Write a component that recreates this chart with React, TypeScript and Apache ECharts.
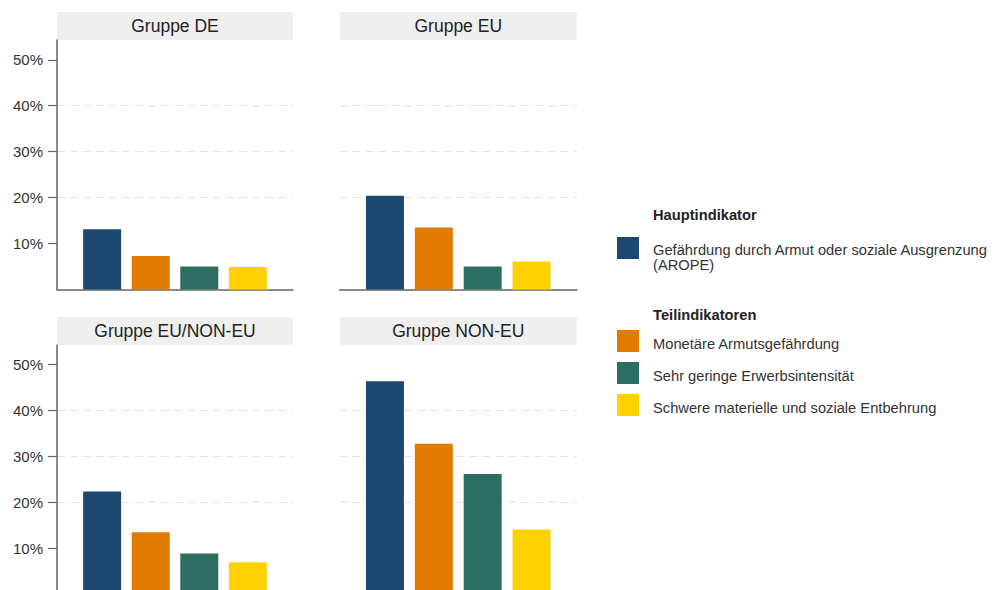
import React, { useEffect, useRef } from "react";
import * as echarts from "echarts";

const indicators = [
  "Gefährdung durch Armut oder soziale Ausgrenzung (AROPE)",
  "Monetäre Armutsgefährdung",
  "Sehr geringe Erwerbsintensität",
  "Schwere materielle und soziale Entbehrung",
];
const colors = ["#1d4870", "#e27c00", "#2e6e62", "#ffd100"];
const groups = ["Gruppe DE", "Gruppe EU", "Gruppe EU/NON-EU", "Gruppe NON-EU"];
const valuesDE = [13.1, 7.3, 5.0, 4.9];
const valuesEU = [20.4, 13.5, 5.0, 6.1];
const valuesEUNONEU = [22.4, 13.5, 8.9, 7.0];
const valuesNONEU = [46.4, 32.8, 26.2, 14.1];
const groupValues = [valuesDE, valuesEU, valuesEUNONEU, valuesNONEU];
const yTicks = [10, 20, 30, 40, 50];
const headerMain = "Hauptindikator";
const headerSub = "Teilindikatoren";

const FONT = "'Liberation Sans', Arial, sans-serif";
const LEG_FS = 14.7;

export default function App() {
  const ref = useRef<HTMLDivElement>(null);
  useEffect(() => {
    if (!ref.current) return;
    const chart = echarts.init(ref.current, undefined, { renderer: "svg" });
    const panels = [
      { left: 57, top: 40, width: 236, height: 249.5, yLabels: true },
      { left: 339.5, top: 40, width: 237.5, height: 249.5, yLabels: false },
      { left: 57, top: 345, width: 236, height: 249.3, yLabels: true },
      { left: 339.5, top: 345, width: 237.5, height: 249.3, yLabels: false },
    ];
    const grids = panels.map((p) => ({
      left: p.left,
      top: p.top,
      width: p.width,
      height: p.height,
      containLabel: false,
    }));
    const xAxes = panels.map((_, i) => ({
      type: "value",
      gridIndex: i,
      min: 0.07,
      max: 4.93,
      axisLine: { show: true, onZero: false, lineStyle: { color: "#666", width: 1.5 } },
      axisTick: { show: false },
      axisLabel: { show: false },
      splitLine: { show: false },
    }));
    const yAxes = panels.map((p, i) => ({
      type: "value",
      gridIndex: i,
      min: 0,
      max: 54.3,
      interval: 10,
      axisLine: { show: p.yLabels, lineStyle: { color: "#666", width: 1.5 } },
      axisTick: {
        show: p.yLabels,
        length: 9,
        customValues: yTicks,
        lineStyle: { color: "#666", width: 1.2 },
      },
      axisLabel: {
        show: p.yLabels,
        customValues: yTicks,
        formatter: (v: number) => `${v}%`,
        fontSize: 15,
        color: "#333",
        fontFamily: FONT,
        margin: 14,
      },
      splitLine: {
        show: true,
        showMinLine: false,
        showMaxLine: false,
        lineStyle: { color: "#e3e3e3", type: [8, 5], width: 1 },
      },
    }));
    const series: any[] = [];
    groupValues.forEach((vals, gi) => {
      indicators.forEach((name, ii) => {
        series.push({
          type: "bar",
          name,
          xAxisIndex: gi,
          yAxisIndex: gi,
          barWidth: 38,
          barGap: "-100%",
          itemStyle: { color: colors[ii] },
          data: [[ii + 1, vals[ii]]],
        });
      });
    });
    const graphic: any[] = [];
    panels.forEach((p, i) => {
      graphic.push({
        type: "rect",
        shape: { x: p.left, y: p.top - 28, width: p.width, height: 28 },
        style: { fill: "#efefef" },
        silent: true,
      });
      graphic.push({
        type: "text",
        x: p.left + p.width / 2,
        y: p.top - 14,
        style: {
          text: groups[i],
          fontSize: 17.5,
          fontFamily: FONT,
          fill: "#222",
          align: "center",
          verticalAlign: "middle",
        },
        silent: true,
      });
    });
    graphic.push({
      type: "text",
      x: 653,
      y: 215,
      style: { text: headerMain, fontSize: LEG_FS, fontWeight: "bold", fontFamily: FONT, fill: "#222", verticalAlign: "middle" },
    });
    graphic.push({
      type: "text",
      x: 653,
      y: 315,
      style: { text: headerSub, fontSize: LEG_FS, fontWeight: "bold", fontFamily: FONT, fill: "#222", verticalAlign: "middle" },
    });

    const icon2 = "path://M0,0L22,0L22,22L0,22Z M0,28L0.001,28L0,28Z";

    chart.setOption({
      animation: false,
      textStyle: { fontFamily: FONT },
      grid: grids,
      xAxis: xAxes,
      yAxis: yAxes,
      series,
      graphic,
      legend: [
        {
          data: [{ name: indicators[0], icon: "path://M0,0L22,0L22,22L0,22Z M0,40L0.001,40L0,40Z" }],
          left: 617,
          top: 237,
          padding: 0,
          orient: "vertical",
          itemWidth: 22,
          itemHeight: 40,
          selectedMode: false,
          formatter: (n: string) => n.replace(" (AROPE)", "\n(AROPE)"),
          textStyle: { fontSize: LEG_FS, lineHeight: 15, color: "#333", fontFamily: FONT, padding: [0, 0, 0, 9] },
        },
        {
          data: indicators.slice(1).map((name) => ({ name, icon: icon2 })),
          left: 617,
          top: 330,
          padding: 0,
          orient: "vertical",
          itemWidth: 22,
          itemHeight: 28,
          itemGap: 4,
          selectedMode: false,
          textStyle: { fontSize: LEG_FS, color: "#333", fontFamily: FONT, padding: [0, 0, 0, 9] },
        },
      ],
    });
    return () => chart.dispose();
  }, []);
  return (
    <div
      ref={ref}
      style={{ position: "fixed", left: 0, top: 0, width: 994, height: 600, background: "#fff" }}
    />
  );
}
